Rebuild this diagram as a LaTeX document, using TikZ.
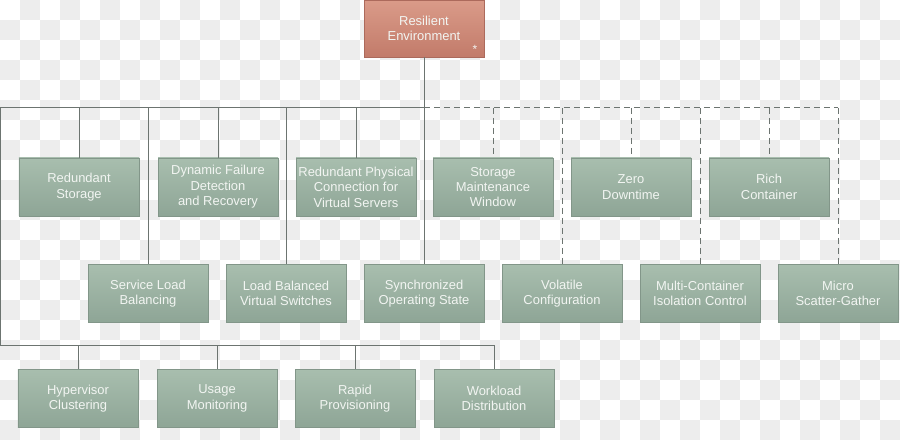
\documentclass[tikz,border=0pt]{standalone}
\usepackage{fontspec}
\setmainfont{Liberation Sans}
\usepackage{tikz}
\usetikzlibrary{positioning}
\usepackage{xcolor}
\definecolor{checkgray}{RGB}{237, 237, 237}
\definecolor{leaftop}{RGB}{168, 190, 174}
\definecolor{leafbot}{RGB}{142, 165, 150}
\definecolor{leafedge}{RGB}{130, 150, 137}
\definecolor{roottop}{RGB}{218, 155, 137}
\definecolor{rootbot}{RGB}{194, 123, 106}
\definecolor{rootedge}{RGB}{172, 106, 92}
\definecolor{wiregray}{RGB}{108, 116, 112}
\definecolor{labelwhite}{RGB}{242, 245, 242}

\tikzset{
  leaf/.style={draw=leafedge, line width=0.8bp, top color=leaftop, bottom color=leafbot,
    text=labelwhite, minimum width=120bp, minimum height=58bp, inner sep=0pt, align=center,
    font=\fontsize{13}{15.5}\selectfont},
  rootbox/.style={leaf, draw=rootedge, top color=roottop, bottom color=rootbot},
  wire/.style={draw=wiregray, line width=1bp},
  dashwire/.style={wire, dash pattern=on 6bp off 4bp}
}

\begin{document}
\begin{tikzpicture}[x=1bp, y=-1bp]
    \useasboundingbox (0,0) rectangle (900,440);

    % checkered background
    \begin{scope}
      \clip (0,0) rectangle (900,440);
      \fill[white] (0,0) rectangle (900,440);
      \foreach \i in {0,40,...,880} {
        \foreach \j in {0,40,...,400} {
          \fill[checkgray] (\i+20,\j) rectangle ++(20,20);
          \fill[checkgray] (\i,\j+20) rectangle ++(20,20);
        }
      }
    \end{scope}

    % top of the tree
    \node[rootbox, minimum height=57bp] (env) at (424,28.5) {Resilient\\Environment};
    \node[text=labelwhite, font=\fontsize{12}{12}\selectfont, inner sep=0pt] (star) at (475,49.5) {*};

    % first row
    \node[leaf] (rs)  at (79,187)  {Redundant\\Storage};
    \node[leaf] (dfd) at (218,187) {Dynamic Failure\\Detection\\and Recovery};
    \node[leaf] (rpc) at (356,187) {Redundant Physical\\Connection for\\Virtual Servers};
    \node[leaf] (smw) at (493,187) {Storage\\Maintenance\\Window};
    \node[leaf] (zd)  at (631,187) {Zero\\Downtime};
    \node[leaf] (rc)  at (769,187) {Rich\\Container};

    % second row
    \node[leaf] (slb) at (148,293.5) {Service Load\\Balancing};
    \node[leaf] (lbv) at (286,293.5) {Load Balanced\\Virtual Switches};
    \node[leaf] (sos) at (424,293.5) {Synchronized\\Operating State};
    \node[leaf] (vc)  at (562,293.5) {Volatile\\Configuration};
    \node[leaf] (mci) at (700,293.5) {Multi-Container\\Isolation Control};
    \node[leaf] (msg) at (838,293.5) {Micro\\Scatter-Gather};

    % third row
    \node[leaf] (hc)  at (78,398.5)  {Hypervisor\\Clustering};
    \node[leaf] (um)  at (217,398.5) {Usage\\Monitoring};
    \node[leaf] (rp)  at (355,398.5) {Rapid\\Provisioning};
    \node[leaf] (wd)  at (494,398.5) {Workload\\Distribution};

    % bus lines
    \coordinate (busL) at (0.5,108);
    \coordinate (busM) at (424,108);
    \coordinate (busR) at (838,108);
    \coordinate (busLow) at (0.5,346);

    \draw[wire] (env.south) -- (sos.north);
    \draw[wire] (busL) -- (busM);
    \draw[dashwire] (busM) -- (busR);
    \draw[wire] (busL) -- (busLow) -| (wd.north);

    \foreach \n in {rs,dfd,rpc,slb,lbv}
      \draw[wire] (\n.north |- busM) -- (\n.north);
    \foreach \n in {smw,zd,rc,vc,mci,msg}
      \draw[dashwire] (\n.north |- busM) -- (\n.north);
    \foreach \n in {hc,um,rp}
      \draw[wire] (\n.north |- busLow) -- (\n.north);
\end{tikzpicture}
\end{document}
